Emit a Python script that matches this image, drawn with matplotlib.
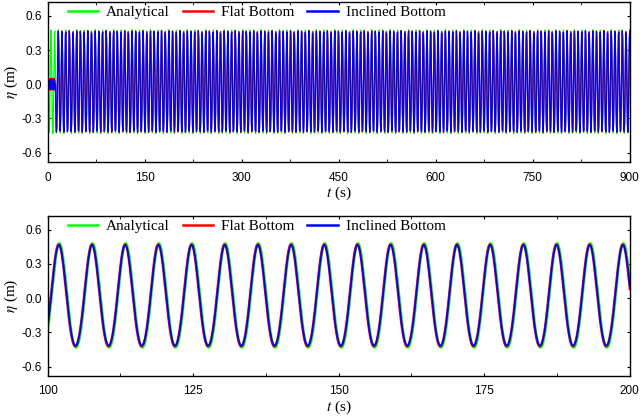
import numpy as np
import matplotlib.pyplot as plt

plt.rcParams['font.family'] = ['Liberation Serif', 'DejaVu Serif']
plt.rcParams['mathtext.fontset'] = 'stix'
plt.rcParams['axes.unicode_minus'] = False

# values
labels = ['Analytical', 'Flat Bottom', 'Inclined Bottom']
colores = ['#00ff00', '#ff0000', '#0000ff']
period_s = 5.70          # wave period
first_crest_s = 101.94   # a crest time seen in the zoomed panel
crest_m = [0.478, 0.470, 0.466]
trough_m = [-0.432, -0.422, -0.418]
lag_s = [0.06, -0.06, 0.0]
arrival_s = [0.0, 12.0, 12.5]   # numerical waves reach the gauge later
pre_arrival_m = [0.0, 0.06, 0.05]
line_w = [2.0, 1.6, 1.2]
paso_largo_s = 0.5      # coarse record step of the long run


def elevacion(t, i):
    a = (crest_m[i] - trough_m[i]) / 2.0
    b = (crest_m[i] + trough_m[i]) / 2.0
    th = 2 * np.pi * (t - first_crest_s - lag_s[i]) / period_s
    eta = a * np.cos(th) + b * np.cos(2 * th)
    pre = pre_arrival_m[i] * np.sin(2 * np.pi * t / 3.0)
    return np.where(t < arrival_s[i], pre, eta)


fig = plt.figure(figsize=(6.4, 4.16), dpi=100)
ax1 = fig.add_axes([0.0745, 0.611, 0.9095, 0.384])
ax2 = fig.add_axes([0.0745, 0.097, 0.9095, 0.384])

t1 = np.arange(0, 900.01, paso_largo_s)
t2 = np.arange(100, 200.01, 0.05)

for ax, t, xlim, mayor, menor in [(ax1, t1, (0, 900), 150, 75),
                                  (ax2, t2, (100, 200), 25, 12.5)]:
    for i in range(len(labels)):
        ax.plot(t, elevacion(t, i), c=colores[i],
                lw=line_w[i] if ax is ax2 else 0.9, label=labels[i])
    ax.set_xlim(*xlim)
    ax.set_ylim(-0.68, 0.72)
    ax.set_xticks(np.arange(xlim[0], xlim[1] + 0.1, mayor))
    ax.set_xticks(np.arange(xlim[0], xlim[1] + 0.1, menor), minor=True)
    ax.set_yticks([-0.6, -0.3, 0.0, 0.3, 0.6])
    ax.set_yticklabels(['-0.6', '-0.3', '0.0', '0.3', '0.6'])
    ax.tick_params(direction='in', length=2, width=0.8, labelsize=8.5,
                   top=True, right=True)
    ax.tick_params(axis='x', pad=7)
    ax.tick_params(axis='y', pad=4)
    ax.tick_params(which='minor', direction='in', length=2, top=True)
    for lab in ax.get_xticklabels() + ax.get_yticklabels():
        lab.set_family(['Liberation Sans', 'DejaVu Sans'])
    ax.set_xlabel('$t$ (s)', fontsize=11, labelpad=1)
    ax.set_ylabel(r'$\eta$ (m)', fontsize=11, labelpad=1)
    for s in ax.spines.values():
        s.set_linewidth(1.0)
    leg = ax.legend(loc='center', bbox_to_anchor=(0.359, 0.935), ncol=3,
                    frameon=False, fontsize=11, handlelength=2.0,
                    handletextpad=0.5, columnspacing=0.85, borderpad=0)
    for h in leg.get_lines():
        h.set_linewidth(1.8)

fig.savefig('out.png', dpi=100)
